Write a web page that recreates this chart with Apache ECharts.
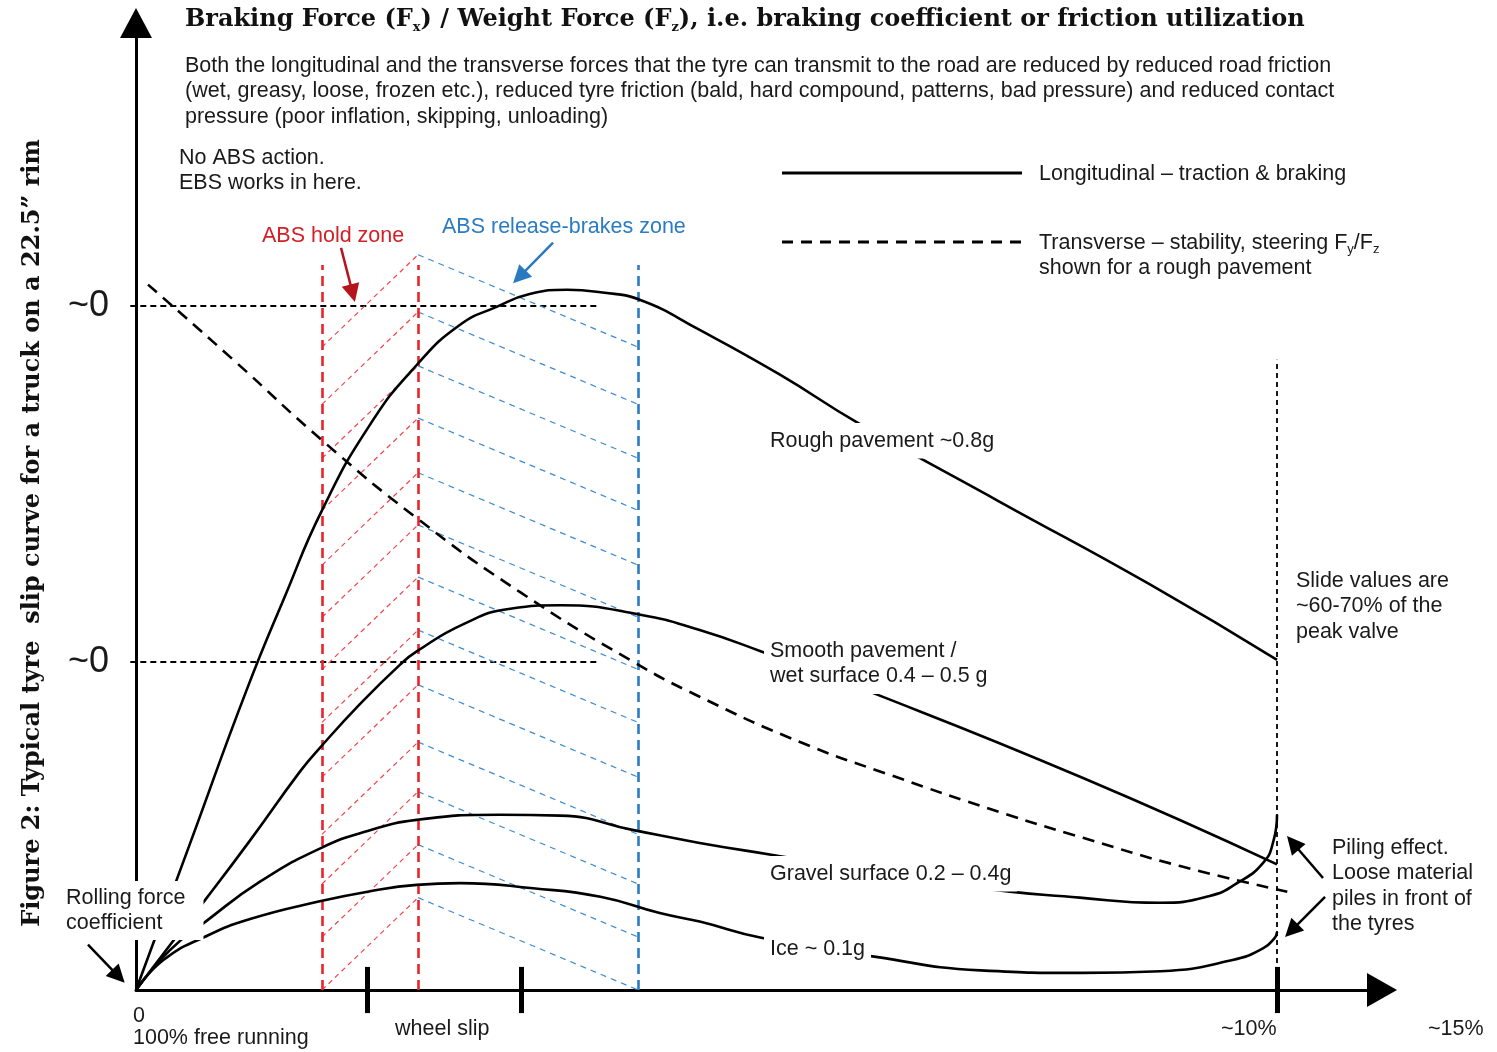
<!DOCTYPE html>
<html>
<head>
<meta charset="utf-8">
<title>Typical tyre slip curve</title>
<script src="https://cdn.jsdelivr.net/npm/echarts@6/dist/echarts.min.js"></script>
<style>
  html, body { margin: 0; padding: 0; background: #fff; }
  #slip_curve_con { width: 1497px; height: 1052px; }
</style>
</head>
<body>
<div id="slip_curve_con"></div>
<script>
// x = wheel slip (%), y = Fx/Fz (braking coefficient)
const roughPavement = [[0,0],[0.47,0.17],[0.97,0.351],[1.31,0.462],[1.63,0.561],[2.05,0.661],[2.46,0.731],[2.84,0.778],[3.16,0.799],[3.45,0.814],[3.78,0.819],[4.07,0.816],[4.42,0.807],[4.94,0.772],[5.64,0.720],[6.33,0.663],[7.57,0.571],[8.89,0.474],[10,0.386]];
const smoothPavement = [[0,0],[0.30,0.053],[0.61,0.106],[1.0,0.175],[1.44,0.256],[1.61,0.283],[1.96,0.334],[2.31,0.380],[2.46,0.396],[2.87,0.428],[3.28,0.446],[3.72,0.450],[4.42,0.439],[4.94,0.421],[5.48,0.396],[6.39,0.351],[8.30,0.248],[10,0.147]];
const gravelSurface = [[0,0],[0.30,0.047],[0.61,0.080],[1.09,0.127],[1.62,0.166],[2.03,0.186],[2.46,0.199],[3.19,0.205],[3.72,0.204],[4.36,0.187],[4.94,0.172],[5.58,0.158],[7.36,0.120],[8.27,0.108],[8.97,0.102],[9.41,0.110],[9.65,0.125],[9.88,0.149],[9.97,0.175],[10,0.205]];
const iceSurface = [[0,0],[0.24,0.035],[0.60,0.062],[1.0,0.083],[1.62,0.104],[2.03,0.115],[2.46,0.123],[2.84,0.125],[3.48,0.119],[4.07,0.109],[4.59,0.090],[4.94,0.080],[5.48,0.061],[6.47,0.039],[7.40,0.023],[8.30,0.020],[8.98,0.022],[9.61,0.035],[9.88,0.049],[9.98,0.061],[10,0.068]];
const transverseRough = [[0.105,0.825],[0.87,0.735],[1.63,0.643],[2.46,0.552],[3.37,0.465],[4.33,0.386],[4.94,0.343],[5.82,0.290],[6.62,0.251],[7.57,0.208],[8.30,0.178],[9.15,0.145],[10.09,0.115]];

const refLevels = [0.8, 0.384];          // the two "~0" dotted levels
const refLevelSpan = [-0.05, 4.05];
const slideLimit = 10;                   // ~10% slip
const slideLineTop = 0.737;
const slipTicks = [2.03, 3.38, 10];
const zoneX = [1.63, 2.472, 4.40];       // hold zone left, hold/release border, release right
const zoneTop = 0.848;
const hatchTops = [0.860,0.793,0.730,0.669,0.605,0.544,0.483,0.421,0.357,0.290,0.232,0.170,0.108];
const hatchDrop = 0.108;

// annotation arrows [tail, head]
const holdArrow = [[1.797,0.868],[1.899,0.815]];
const releaseArrow = [[3.655,0.874],[3.360,0.834]];
const rollingArrow = [[-0.421,0.053],[-0.154,0.016]];
const pilingArrows = [[[10.403,0.131],[10.139,0.172]], [[10.421,0.109],[10.126,0.0695]]];

const SANS = '"Helvetica Neue", "Liberation Sans", Arial, sans-serif';
const SLAB = '"DejaVu Serif", serif';

function curve(data, dashed) {
  return {
    type: 'line', data: data, smooth: 0.5, showSymbol: false, clip: false, z: 3,
    lineStyle: { color: '#000', width: 2.6, type: dashed ? [12, 8] : 'solid' }
  };
}
function segs(list, style, extra) {
  return Object.assign({
    type: 'lines', coordinateSystem: 'cartesian2d', clip: false, silent: true, z: 2,
    data: list.map(c => ({ coords: c })), lineStyle: Object.assign({ opacity: 1, curveness: 0 }, style)
  }, extra || {});
}
function note(x, y, text, extra) {
  return {
    type: 'text', x: x, y: y, z: 20, silent: true,
    style: Object.assign({ text: text, font: '21.5px ' + SANS, fill: '#1a1a1a', verticalAlign: 'top', lineHeight: 25.5 }, extra || {})
  };
}
const arrowStyle = { symbol: ['none', 'triangle'], symbolSize: 18 };
const boxed = { backgroundColor: '#fff', padding: [5, 6, 5, 6] };

var chart = echarts.init(document.getElementById('slip_curve_con'));
var option = {
  animation: false,
  grid: { left: 136, right: 115, top: 23, bottom: 62 },
  xAxis: {
    type: 'value', min: 0, max: 10.92,
    axisLine: { show: true, symbol: ['none', 'triangle'], symbolSize: [34, 30], lineStyle: { color: '#000', width: 3 } },
    axisTick: { show: false }, axisLabel: { show: false }, splitLine: { show: false }
  },
  yAxis: {
    type: 'value', min: 0, max: 1.131,
    axisLine: { show: true, symbol: ['none', 'triangle'], symbolSize: [32, 30], lineStyle: { color: '#000', width: 3 } },
    axisTick: { show: false }, splitLine: { show: false },
    axisLabel: { customValues: refLevels, formatter: () => '~0', fontSize: 36, color: '#1a1a1a', fontFamily: SANS, margin: 27 }
  },
  series: [
    segs(refLevels.map(v => [[refLevelSpan[0], v], [refLevelSpan[1], v]]), { color: '#000', width: 1.8, type: [6, 4] }),
    segs([[[slideLimit, 0], [slideLimit, slideLineTop]]], { color: '#000', width: 1.8, type: [5, 4] }),
    segs(hatchTops.map(t => [[zoneX[0], t - hatchDrop], [zoneX[1], t]]), { color: '#f0474d', width: 1.2, type: [5, 4] }),
    segs(hatchTops.map(t => [[zoneX[1], t], [zoneX[2], t - hatchDrop]]), { color: '#3d8bd0', width: 1.2, type: [6, 5] }),
    segs([[[zoneX[0], 0], [zoneX[0], zoneTop]], [[zoneX[1], 0], [zoneX[1], zoneTop]]], { color: '#e8232b', width: 2.6, type: [10, 6] }),
    segs([[[zoneX[2], 0], [zoneX[2], zoneTop]]], { color: '#2b7cc3', width: 2.6, type: [10, 6] }),
    curve(roughPavement), curve(smoothPavement), curve(gravelSurface), curve(iceSurface),
    curve(transverseRough, true),
    segs(slipTicks.map(x => [[x, -0.027], [x, 0.027]]), { color: '#000', width: 5 }, { z: 4 }),
    segs([holdArrow], { color: '#b5141c', width: 2.5 }, arrowStyle),
    segs([releaseArrow], { color: '#2a7ac0', width: 2.5 }, arrowStyle),
    segs([rollingArrow].concat(pilingArrows), { color: '#000', width: 2.5 }, arrowStyle)
  ],
  graphic: { elements: [
    { type: 'text', x: 185, y: 20, z: 20, silent: true, style: {
        text: '{t|Braking Force (F}{s|x}{t|) / Weight Force (F}{s|z}{t|), i.e. braking coefficient or friction utilization}',
        verticalAlign: 'middle', fill: '#111',
        rich: { t: { font: 'bold 24px ' + SLAB, fill: '#111' }, s: { font: 'bold 13px ' + SLAB, fill: '#111', padding: [15, 0, 0, 0] } }
    } },
    { type: 'text', x: 33, y: 533, z: 20, rotation: Math.PI / 2, silent: true, style: {
        text: 'Figure 2: Typical tyre  slip curve for a truck on a 22.5\u201d rim', font: 'bold 24px ' + SLAB, fill: '#111',
        align: 'center', verticalAlign: 'middle'
    } },
    note(185, 53, 'Both the longitudinal and the transverse forces that the tyre can transmit to the road are reduced by reduced road friction\n(wet, greasy, loose, frozen etc.), reduced tyre friction (bald, hard compound, patterns, bad pressure) and reduced contact\npressure (poor inflation, skipping, unloading)'),
    note(179, 145, 'No ABS action.\nEBS works in here.'),
    { type: 'line', z: 20, silent: true, shape: { x1: 782, y1: 173, x2: 1022, y2: 173 }, style: { stroke: '#000', lineWidth: 3 } },
    { type: 'line', z: 20, silent: true, shape: { x1: 782, y1: 242, x2: 1022, y2: 242 }, style: { stroke: '#000', lineWidth: 3, lineDash: [11, 8] } },
    note(1039, 161, 'Longitudinal \u2013 traction & braking'),
    note(1039, 230, '{n|Transverse \u2013 stability, steering F}{s|y}{n|/F}{s|z}\n{n|shown for a rough pavement}', {
      rich: { n: { font: '21.5px ' + SANS, fill: '#1a1a1a', lineHeight: 25.5 }, s: { font: '13px ' + SANS, fill: '#1a1a1a', padding: [14, 0, 0, 0] } }
    }),
    note(262, 223, 'ABS hold zone', { fill: '#d32027' }),
    note(442, 214, 'ABS release-brakes zone', { fill: '#2b7cc3' }),
    note(764, 423, 'Rough pavement ~0.8g', boxed),
    note(764, 633, 'Smooth pavement /\nwet surface 0.4 \u2013 0.5 g', boxed),
    note(764, 856, 'Gravel surface 0.2 \u2013 0.4g', boxed),
    note(764, 931, 'Ice ~ 0.1g', boxed),
    note(1296, 568, 'Slide values are\n~60-70% of the\npeak valve'),
    note(1332, 835, 'Piling effect.\nLoose material\npiles in front of\nthe tyres'),
    note(62, 881, 'Rolling force\ncoefficient', { backgroundColor: '#fff', padding: [4, 18, 4, 4] }),
    note(133, 1005, '0\n100% free running', { lineHeight: 22 }),
    note(395, 1016, 'wheel slip'),
    note(1221, 1016, '~10%'),
    note(1428, 1016, '~15%')
  ] }
};
chart.setOption(option);
</script>
</body>
</html>
